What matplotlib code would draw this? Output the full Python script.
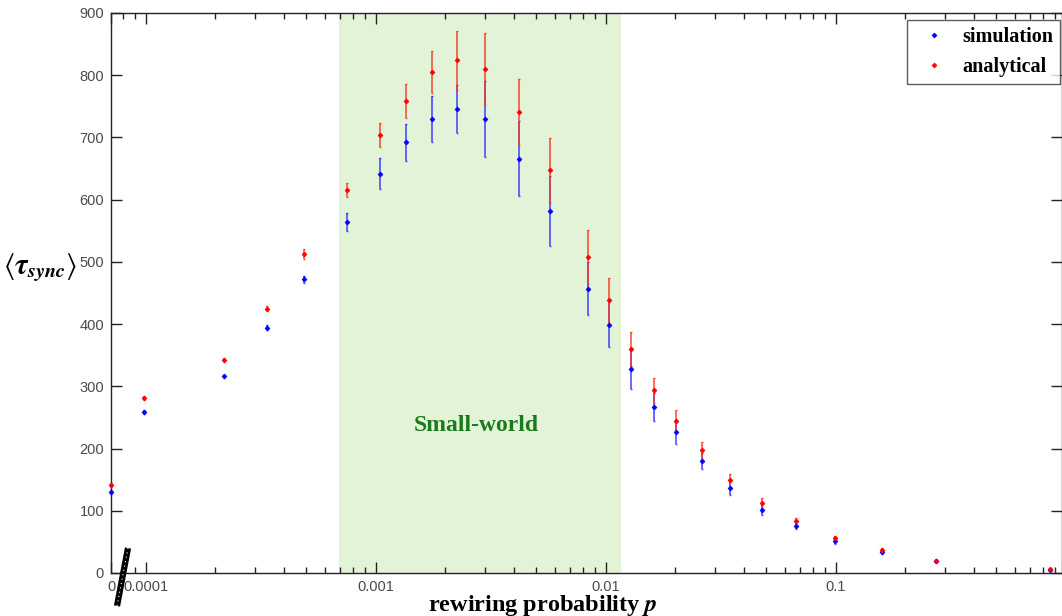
import numpy as np
import matplotlib
matplotlib.use('Agg')
import matplotlib.pyplot as plt
from matplotlib.lines import Line2D
from matplotlib.ticker import LogLocator, NullFormatter

# rewiring probability (first entry is p = 0, drawn at the left edge)
p = [0, 0.000098, 0.000218, 0.000336, 0.000486, 0.000753, 0.00104, 0.00135,
     0.00175, 0.00226, 0.00298, 0.00419, 0.00572, 0.00836, 0.0103, 0.0129,
     0.0162, 0.0203, 0.0263, 0.0348, 0.0476, 0.067, 0.099, 0.159, 0.274, 0.855]
sim = [130, 259, 316, 394, 472, 564, 642, 692, 730, 746, 730, 666, 582, 457,
       399, 328, 267, 226, 180, 136, 101, 76, 51, 33, 19, 5]
sim_err = [3, 3, 3, 4, 6, 14, 25, 30, 37, 39, 61, 60, 56, 43, 36, 33, 22, 19,
           13, 11, 8, 6, 4, 3, 2, 1]
ana = [142, 281, 342, 425, 512, 615, 704, 759, 805, 824, 810, 741, 647, 508,
       438, 360, 294, 244, 197, 149, 113, 83, 56, 37, 20, 6]
ana_err = [3, 3, 3, 4, 8, 11, 19, 27, 34, 47, 58, 53, 52, 43, 36, 28, 20, 18,
           13, 10, 8, 6, 4, 3, 2, 1]
small_world = (0.00069, 0.0116)

plt.rcParams['mathtext.fontset'] = 'stix'

xmin = 10 ** -4.151
xmax = 10 ** -0.018
px = np.array(p, dtype=float)
px[0] = xmin

fig = plt.figure(figsize=(10.62, 6.16), dpi=100)
ax = fig.add_axes([111 / 1062, 1 - 573 / 616, 950.5 / 1062, 560 / 616])

ax.axvspan(small_world[0], small_world[1], color='#e3f3d8', lw=0, zorder=0)
ax.text(np.sqrt(small_world[0] * small_world[1]) * 0.97, 237, 'Small-world',
        ha='center', va='center', fontsize=17, fontweight='bold',
        color='#1b7a1b', family='Liberation Serif')

ax.errorbar(px, sim, yerr=sim_err, fmt='none', ecolor='#3030ff', elinewidth=1.2,
            capsize=1, alpha=0.85, zorder=2, clip_on=False)
ax.errorbar(px, ana, yerr=ana_err, fmt='none', ecolor='#f83820', elinewidth=1.2,
            capsize=1, alpha=0.85, zorder=3, clip_on=False)
ax.plot(px, sim, 'D', color='#0000ff', ms=2.5, mew=0.5, zorder=4, clip_on=False,
        label='simulation')
ax.plot(px, ana, 'D', color='#ff0000', ms=2.5, mew=0.5, zorder=5, clip_on=False,
        label='analytical')

ax.set_xscale('log')
ax.set_xlim(xmin, xmax)
ax.set_ylim(0, 900)
ax.set_xticks([xmin, 1e-4, 1e-3, 1e-2, 1e-1])
ax.set_xticklabels(['0', '0.0001', '0.001', '0.01', '0.1'])
ax.xaxis.set_minor_locator(LogLocator(base=10, subs=np.arange(2, 10)))
ax.xaxis.set_minor_formatter(NullFormatter())
ax.set_yticks(np.arange(0, 901, 100))

ax.tick_params(which='both', direction='in', top=True, right=True,
               labelsize=10.5, labelcolor='#4a4a4a', color='#222222', width=1)
ax.tick_params(which='major', length=8)
ax.tick_params(which='minor', length=4)
ax.tick_params(axis='x', pad=5)
ax.tick_params(axis='y', pad=5)
for lab in ax.get_xticklabels() + ax.get_yticklabels():
    lab.set_family('Liberation Sans')
for s in ax.spines.values():
    s.set_color('#222222')
    s.set_linewidth(1)

fig.text(543 / 1062, 1 - 611 / 616, r'rewiring probability $\mathbfit{p}$',
         fontsize=17.5, fontweight='bold', family='Liberation Serif',
         ha='center', va='baseline')
fig.text(40 / 1062, 1 - 268 / 616,
         r'$\left\langle \mathbfit{\tau}_{\mathbfit{sync}} \right\rangle$',
         fontsize=21, ha='center', va='center')

leg = ax.legend(loc='upper right', bbox_to_anchor=(0.9984, 0.9875),
                prop={'family': 'Liberation Serif', 'weight': 'bold',
                      'size': 14.5},
                frameon=True, fancybox=False, edgecolor='#333333',
                handlelength=2.0, handletextpad=0.4, borderaxespad=0,
                labelspacing=0.5, borderpad=0.35)
leg.get_frame().set_linewidth(1)

# broken axis mark
fig.add_artist(Line2D([128 / 1062, 117 / 1062], [1 - 548 / 616, 1 - 606 / 616],
                      transform=fig.transFigure, color='black', lw=4.5,
                      solid_capstyle='butt'))
fig.add_artist(Line2D([128 / 1062, 117 / 1062], [1 - 548 / 616, 1 - 606 / 616],
                      transform=fig.transFigure, color='white', lw=0.8,
                      linestyle=(0, (1, 3))))

fig.savefig('out.png', dpi=100)
